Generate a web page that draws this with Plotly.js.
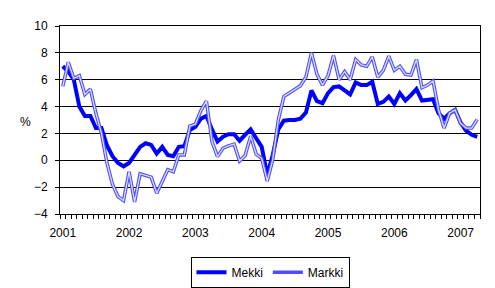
<!DOCTYPE html>
<html>
<head>
<meta charset="utf-8">
<script src="https://cdn.plot.ly/plotly-3.0.1.min.js"></script>
<style>html,body{margin:0;padding:0;background:#fff;}#chart{width:495px;height:288px;}</style>
</head>
<body>
<div id="chart"></div>
<script>
// Monthly observations, Jan 2001 - Apr 2007
const months = [];
for (let y = 2001; y <= 2007; y++) {
  for (let m = 1; m <= 12; m++) {
    if (y === 2007 && m > 4) break;
    months.push(y + '-' + String(m).padStart(2, '0'));
  }
}
const yearLabels = ['2001', '2002', '2003', '2004', '2005', '2006', '2007'];

const mekki = [
  7.0, 6.6, 6.0, 4.0, 3.3, 3.3, 2.4, 2.4, 1.1, 0.3, -0.2, -0.45,
  -0.2, 0.4, 1.0, 1.27, 1.15, 0.5, 1.0, 0.4, 0.3, 1.0, 1.05, 2.25,
  2.5, 3.1, 3.3, 2.3, 1.4, 1.76, 1.94, 1.94, 1.46, 1.9, 2.3, 1.64,
  1.0, -1.1, 0.4, 2.3, 2.95, 3.0, 3.0, 3.1, 3.55, 5.2, 4.4, 4.25,
  5.0, 5.45, 5.5, 5.2, 4.9, 5.8, 5.6, 5.6, 5.85, 4.2, 4.35, 4.75,
  4.2, 5.0, 4.45, 4.85, 5.3, 4.45, 4.5, 4.55, 3.5, 3.1, 3.5, 3.75,
  2.8, 2.2, 1.9, 1.75
];
const markki = [
  5.5, 7.3, 6.1, 6.3, 4.9, 5.3, 3.5, 2.0, -0.2, -1.8, -2.7, -3.0,
  -0.85, -3.1, -1.0, -1.15, -1.25, -2.45, -1.6, -0.7, -0.85, 0.4, 0.4, 2.55,
  2.7, 3.7, 4.4, 1.4, 0.27, 0.9, 1.07, 1.2, -0.05, 0.35, 1.8, 0.45,
  0.15, -1.55, 0.05, 3.0, 4.75, 5.0, 5.25, 5.55, 6.2, 8.0, 6.4, 5.6,
  6.3, 7.8, 6.0, 6.6, 6.0, 7.5, 7.1, 7.0, 7.7, 6.2, 6.7, 7.75,
  6.7, 7.0, 6.4, 6.35, 7.5, 5.4, 5.6, 5.9, 3.75, 2.4, 3.5, 3.75,
  2.75, 2.4, 2.4, 3.05
];

const xIdx = months.map((_, i) => i);
const yearTickVals = yearLabels.map((_, k) => k * 12);

const font = {family: 'Arial, "Liberation Sans", sans-serif', size: 12, color: '#000'};

const traces = [
  {x: xIdx, y: mekki, type: 'scatter', mode: 'lines', name: 'Mekki',
   line: {color: '#0000ff', width: 4}, hoverinfo: 'skip'},
  {x: xIdx, y: markki, type: 'scatter', mode: 'lines', name: 'Markki',
   line: {color: '#4d4dff', width: 3.5}, hoverinfo: 'skip'},
  {x: xIdx, y: markki, type: 'scatter', mode: 'lines', name: 'Markki-c', showlegend: false,
   line: {color: 'rgba(255,255,255,0.8)', width: 1.3}, hoverinfo: 'skip'}
];

const layout = {
  width: 495, height: 288,
  margin: {l: 60, r: 15, t: 26, b: 74, autoexpand: false},
  paper_bgcolor: '#fff', plot_bgcolor: '#fff',
  font: font,
  showlegend: true,
  legend: {orientation: 'h', x: 0.5, xanchor: 'center', y: -0.228, yanchor: 'top',
           bordercolor: '#000', borderwidth: 1, font: font, bgcolor: '#fff',
           itemwidth: 30, tracegroupgap: 0},
  xaxis: {
    range: [-0.5, 75.5], tickvals: yearTickVals, ticktext: yearLabels,
    ticks: '', showgrid: false, zeroline: false, automargin: false,
    showline: true, linecolor: '#000', linewidth: 1, mirror: true,
    ticklabelstandoff: 8,
    minor: {tick0: -0.5, dtick: 1, ticks: 'outside', ticklen: 4, tickcolor: '#000', tickwidth: 1, showgrid: false},
    tickfont: font, fixedrange: true
  },
  yaxis: {
    range: [-4, 10], dtick: 2, tick0: 0, automargin: false,
    ticks: 'outside', ticklen: 4, tickcolor: '#000',
    showgrid: true, gridcolor: '#000', gridwidth: 1,
    zeroline: false, showline: true, linecolor: '#000', linewidth: 1, mirror: true,
    ticklabelstandoff: 5,
    tickfont: font, fixedrange: true
  },
  annotations: [
    {text: '%', xref: 'paper', yref: 'paper', x: -0.083, y: 0.49, showarrow: false,
     xanchor: 'center', yanchor: 'middle', font: font}
  ]
};

Plotly.newPlot('chart', traces, layout, {displayModeBar: false, staticPlot: true});
</script>
</body>
</html>
